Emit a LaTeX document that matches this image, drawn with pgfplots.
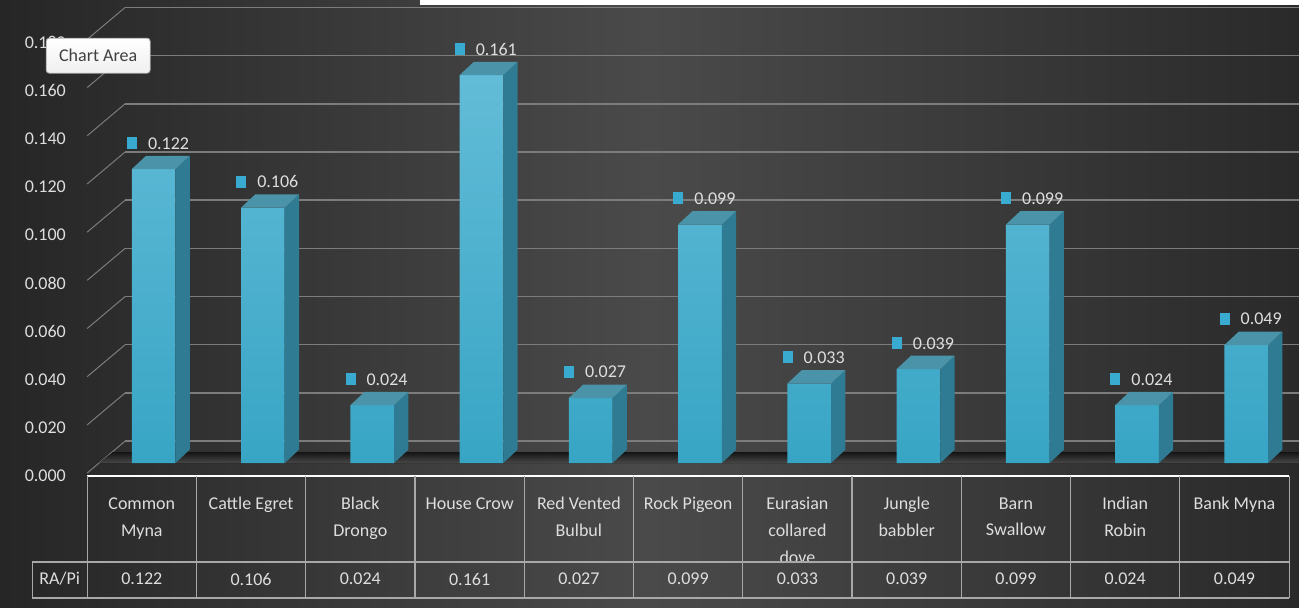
\documentclass[border=0pt]{standalone}
\usepackage{pgfplots}
\pgfplotsset{compat=1.18}
\usepackage{pgfplotstable}
\usepackage{fontspec}
\setmainfont{Carlito}
\definecolor{bgL}{HTML}{262626}
\definecolor{bgM}{HTML}{4A4A4A}
\definecolor{bgR}{HTML}{2A2A2A}
\definecolor{frontT}{HTML}{62BCD7}
\definecolor{frontB}{HTML}{38A5C5}
\definecolor{sideC}{HTML}{2E7B93}
\definecolor{topC}{HTML}{4B93A8}
\definecolor{mk}{HTML}{3AABD0}
\definecolor{txt}{HTML}{DEDEDE}
\definecolor{gridC}{HTML}{7C7C7C}
\definecolor{tabC}{HTML}{A8A8A8}
\tikzset{tabtxt/.style={text=txt, font=\fontsize{9}{11}\selectfont}}
\pgfplotsset{sideface/.style={fill=sideC, draw=none, forget plot},
  topface/.style={fill=topC, draw=none, forget plot}}

\pgfplotstableread{
x v
0 0.122
1 0.106
2 0.024
3 0.161
4 0.027
5 0.099
6 0.033
7 0.039
8 0.099
9 0.024
10 0.049
}\birds

\begin{document}
\begin{tikzpicture}
\begin{axis}[
  scale only axis, width=649.5pt, height=303.5pt,
  xmin=-1.29597, xmax=10.5887, ymin=-0.059751, ymax=0.192116,
  axis line style={draw=none}, major tick length=0pt,
  axis background/.style={left color=bgL, right color=bgR, middle color=bgM},
  ytick={0,0.02,0.04,0.06,0.08,0.1,0.12,0.14,0.16,0.18},
  yticklabel style={anchor=east, inner sep=0pt, xshift=33pt, yshift=-6.5pt, text=txt,
    font=\fontsize{9}{11}\selectfont,
    /pgf/number format/fixed, /pgf/number format/fixed zerofill,
    /pgf/number format/precision=3, /pgf/number format/assume math mode=true},
  xtick={0,1,2,3,4,5,6,7,8,9,10},
  xticklabels={{Common\\Myna},{Cattle Egret},{Black\\Drongo},{House Crow},{Red Vented\\Bulbul},{Rock Pigeon},{Eurasian\\collared\\dove},{Jungle\\babbler},{Barn\\Swallow},{Indian\\Robin},{Bank Myna}},
  xticklabel style={anchor=north, inner sep=0pt, yshift=55pt, align=center, text=txt,
    font=\fontsize{9}{13.5}\selectfont},
]
% back wall grid and diagonals
\pgfplotsinvokeforeach{0,0.02,0.04,0.06,0.08,0.10,0.12,0.14,0.16,0.18}{
  \draw[gridC, line width=0.8pt] (axis cs:-0.15234,#1+0.00913) -- (axis cs:10.5887,#1+0.00913);
  \draw[gridC, line width=0.5pt] (axis cs:-0.5,#1-0.00415) -- (axis cs:-0.15234,#1+0.00913);
}
% floor
\fill[top color=black!92, bottom color=black!72] (axis cs:-0.3902,0) -- (axis cs:10.5887,0) -- (axis cs:10.5887,0.004564) -- (axis cs:-0.2621,0.004564) -- cycle;
% front faces
\addplot[ybar, bar width=0.40, bar shift=0.108, draw=none, top color=frontT, bottom color=frontB,
  nodes near coords={\textcolor{mk}{\rule{5pt}{6pt}}\hspace{5.5pt}\pgfmathprintnumber[fixed,fixed zerofill,precision=3,assume math mode=true]{\pgfplotspointmeta}},
  every node near coord/.append style={anchor=west, inner sep=0pt, xshift=-7.6pt, yshift=13pt, text=txt, font=\fontsize{9}{11}\selectfont}]
  table[x=x, y=v]{\birds};
% side and top faces
\pgfplotsinvokeforeach{0,...,10}{
  \pgfplotstablegetelem{#1}{v}\of\birds
  \let\val\pgfplotsretval
  \pgfmathsetmacro\xl{#1-0.092}
  \pgfmathsetmacro\xa{#1+0.308}
  \pgfmathsetmacro\xb{#1+0.439}
  \pgfmathsetmacro\xc{#1+0.039}
  \pgfmathsetmacro\vt{\val+0.00556}
  \edef\temp{\noexpand\addplot[sideface] coordinates {(\xa,0) (\xb,0.00556) (\xb,\vt) (\xa,\val)};
    \noexpand\addplot[topface] coordinates {(\xl,\val) (\xa,\val) (\xb,\vt) (\xc,\vt)};}
  \temp
}
% data table
\draw[white, line width=1pt] (axis cs:-0.5,-0.005394) -- (axis cs:10.5,-0.005394);
\draw[tabC, line width=0.6pt] (axis cs:-1.0032,-0.041079) -- (axis cs:10.5,-0.041079);
\draw[tabC, line width=0.6pt] (axis cs:-1.0032,-0.056017) -- (axis cs:10.5,-0.056017);
\draw[tabC, line width=0.6pt] (axis cs:-1.0032,-0.041079) -- (axis cs:-1.0032,-0.056017);
\pgfplotsinvokeforeach{0,...,11}{
  \draw[tabC, line width=0.6pt] (axis cs:#1-0.5,-0.005394) -- (axis cs:#1-0.5,-0.056017);
}
\node[tabtxt] at (axis cs:-0.7516,-0.04813) {RA/Pi};
\pgfplotsinvokeforeach{0,...,10}{
  \pgfplotstablegetelem{#1}{v}\of\birds
  \edef\temp{\noexpand\node[tabtxt] at (axis cs:#1,-0.04813) {\pgfplotsretval};}
  \temp
}
\coordinate (tipA) at (axis cs:-0.87511,0.176349);
\coordinate (tipB) at (axis cs:0.07640,0.161826);
\coordinate (tipC) at (axis cs:-0.39935,0.169088);
\coordinate (stripA) at (rel axis cs:0.32333,1);
\coordinate (stripB) at (rel axis cs:1,0.99176);
\end{axis}
\fill[white] (stripA) rectangle (stripB);
\draw[draw=gray!70, top color=white, bottom color=gray!12, rounded corners=1.5pt] (tipA) rectangle (tipB);
\node[text=black!75, font=\fontsize{9}{11}\selectfont] at (tipC) {Chart Area};
\end{tikzpicture}
\end{document}
